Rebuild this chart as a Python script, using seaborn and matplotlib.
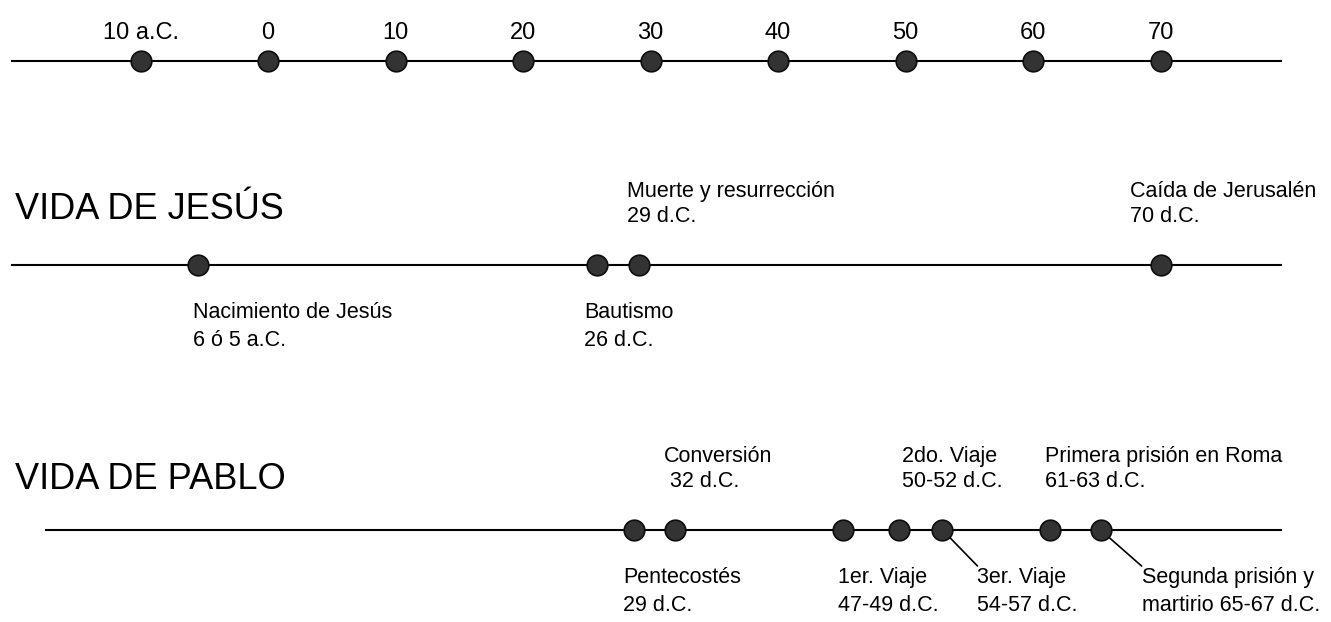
"""Timeline of the lives of Jesus and Paul (scale row plus two event rows)."""

import matplotlib

matplotlib.use("Agg")

import matplotlib.pyplot as plt
import pandas as pd
import seaborn as sns
from matplotlib import font_manager


# --- data -----------------------------------------------------------------
scale_years = [-10, 0, 10, 20, 30, 40, 50, 60, 70]
scale_labels = ["10 a.C.", "0", "10", "20", "30", "40", "50", "60", "70"]

jesus_events = ["Nacimiento de Jesús", "Bautismo", "Muerte y resurrección", "Caída de Jerusalén"]
jesus_dates = ["6 ó 5 a.C.", "26 d.C.", "29 d.C.", "70 d.C."]
jesus_years = [-5.5, 25.8, 29.1, 70]

pablo_events = ["Pentecostés", "Conversión", "1er. Viaje", "2do. Viaje",
                "3er. Viaje", "Primera prisión en Roma", "Segunda prisión y"]
pablo_dates = ["29 d.C.", " 32 d.C.", "47-49 d.C.", "50-52 d.C.",
               "54-57 d.C.", "61-63 d.C.", "martirio 65-67 d.C."]
pablo_years = [28.7, 31.9, 45.1, 49.5, 52.9, 61.3, 65.3]

# --- layout (pixel rows, label sides / offsets) ---------------------------
PX_PER_YEAR = 12.75
X0_PX = 268  # pixel position of year 0
ROW_SCALE, ROW_JESUS, ROW_PABLO = 61, 265, 530
jesus_side = ["below", "below", "above", "above"]
jesus_dx = [-5, -13, -12, -30]
pablo_side = ["below", "above", "below", "above", "below", "above", "below"]
pablo_dx = [-11, -11, -5, 3, 35, -5, 41]
pablo_leader = [False, False, False, False, True, False, True]

names = {f.name for f in font_manager.fontManager.ttflist}
if "Liberation Sans Narrow" in names:
    FAMILY = ["Liberation Sans Narrow", "Liberation Sans"]
    FS_SCALE, FS_NOTE, FS_TITLE = 20, 18.5, 30
else:
    FAMILY = ["Liberation Sans", "DejaVu Sans"]
    FS_SCALE, FS_NOTE, FS_TITLE = 17, 15.5, 26

sns.set_style("white")
plt.rcParams["font.family"] = FAMILY
plt.rcParams["text.color"] = "black"


def yr(px):
    return (px - X0_PX) / PX_PER_YEAR


fig = plt.figure(figsize=(13.31, 6.22), dpi=100)
ax = fig.add_axes([0, 0, 1, 1])
ax.set_xlim(yr(0), yr(1331))
ax.set_ylim(622, 0)
ax.axis("off")

# base lines
ax.hlines([ROW_SCALE, ROW_JESUS], yr(11), yr(1282), color="black", lw=1.5, zorder=1)
ax.hlines(ROW_PABLO, yr(45), yr(1282), color="black", lw=1.5, zorder=1)

dots = pd.concat([
    pd.DataFrame({"year": scale_years, "row": ROW_SCALE}),
    pd.DataFrame({"year": jesus_years, "row": ROW_JESUS}),
    pd.DataFrame({"year": pablo_years, "row": ROW_PABLO}),
])
sns.scatterplot(data=dots, x="year", y="row", s=220, color="#333333",
                edgecolor="#0d0d0d", linewidth=1.2, zorder=3, ax=ax, legend=False)

# scale labels
for y, lab in zip(scale_years, scale_labels):
    ax.text(y, ROW_SCALE - 22, lab, ha="center", va="baseline", fontsize=FS_SCALE)

# row titles
ax.text(yr(15), 219, "VIDA DE JESÚS", ha="left", va="baseline", fontsize=FS_TITLE)
ax.text(yr(15), 489, "VIDA DE PABLO", ha="left", va="baseline", fontsize=FS_TITLE)


def label(year, row, side, dx, first, second, leader=False):
    if side == "above":
        b1, b2 = row - 68, row - 43
    else:
        b1, b2 = row + 53, row + 81
    x = year + dx / PX_PER_YEAR
    ax.text(x, b1, first, ha="left", va="baseline", fontsize=FS_NOTE)
    ax.text(x, b2, second, ha="left", va="baseline", fontsize=FS_NOTE)
    if leader:
        ax.plot([year, x], [row, row + 36], color="black", lw=1.2, zorder=2)


for y, s, d, a, b in zip(jesus_years, jesus_side, jesus_dx, jesus_events, jesus_dates):
    label(y, ROW_JESUS, s, d, a, b)

for y, s, d, a, b, ld in zip(pablo_years, pablo_side, pablo_dx, pablo_events,
                             pablo_dates, pablo_leader):
    label(y, ROW_PABLO, s, d, a, b, ld)

fig.savefig("out.png", dpi=100, facecolor="white")
